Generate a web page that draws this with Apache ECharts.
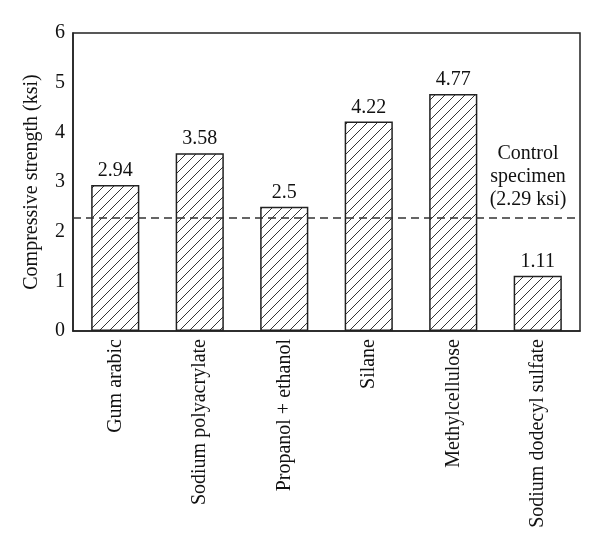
<!DOCTYPE html>
<html>
<head>
<meta charset="utf-8">
<script src="https://cdn.jsdelivr.net/npm/echarts@6/dist/echarts.min.js"></script>
<style>html,body{margin:0;padding:0;background:#fff;}#c{width:600px;height:549px;}</style>
</head>
<body>
<div id="c"></div>
<script>
var categories = ['Gum arabic', 'Sodium polyacrylate', 'Propanol + ethanol', 'Silane', 'Methylcellulose', 'Sodium dodecyl sulfate'];
var strengths = [2.94, 3.58, 2.5, 4.22, 4.77, 1.11];
var controlValue = 2.29;
var yTicks = [0, 1, 2, 3, 4, 5, 6];

var FONT = '"Liberation Serif", "Times New Roman", serif';

function hatch() {
  var s = 10;
  var cv = document.createElement('canvas');
  cv.width = s; cv.height = s;
  var ctx = cv.getContext('2d');
  ctx.fillStyle = '#fff';
  ctx.fillRect(0, 0, s, s);
  ctx.strokeStyle = '#333';
  ctx.lineWidth = 1;
  ctx.beginPath();
  ctx.moveTo(-1, s + 1); ctx.lineTo(s + 1, -1);
  ctx.moveTo(-1, 1); ctx.lineTo(1, -1);
  ctx.moveTo(s - 1, s + 1); ctx.lineTo(s + 1, s - 1);
  ctx.stroke();
  return cv;
}

var chart = echarts.init(document.getElementById('c'), null, {renderer: 'canvas'});
chart.setOption({
  animation: false,
  backgroundColor: '#fff',
  grid: {left: 73, right: 20, top: 33, bottom: 218, show: true, borderColor: '#222', borderWidth: 1.5, backgroundColor: 'transparent'},
  xAxis: {
    type: 'category',
    data: categories,
    axisLine: {show: true, lineStyle: {color: '#222', width: 1.5}},
    axisTick: {show: false},
    axisLabel: {rotate: 90, fontFamily: FONT, fontSize: 20, color: '#111', margin: 8}
  },
  yAxis: {
    type: 'value',
    min: yTicks[0],
    max: yTicks[yTicks.length - 1],
    interval: 1,
    name: 'Compressive strength (ksi)',
    nameLocation: 'middle',
    nameGap: 31,
    nameTextStyle: {fontFamily: FONT, fontSize: 20, color: '#111'},
    axisLine: {show: true, lineStyle: {color: '#222', width: 1.5}},
    axisTick: {show: false},
    splitLine: {show: false},
    axisLabel: {fontFamily: FONT, fontSize: 20, color: '#111', margin: 8}
  },
  series: [{
    type: 'bar',
    data: strengths,
    barWidth: '57%',
    itemStyle: {color: {image: hatch(), repeat: 'repeat'}, borderColor: '#222', borderWidth: 1.5},
    label: {show: true, position: 'top', distance: 4, fontFamily: FONT, fontSize: 20, color: '#111'},
    markLine: {
      symbol: 'none',
      silent: true,
      data: [{yAxis: controlValue}],
      lineStyle: {color: '#333', type: [8, 5], width: 1.5},
      label: {
        position: 'insideEndTop',
        distance: [6, 6],
        formatter: '{a|Control}\n{a|specimen}\n{a|(' + controlValue + ' ksi)}',
        rich: {a: {fontFamily: FONT, fontSize: 20, color: '#111', width: 92, align: 'center', lineHeight: 23}}
      }
    }
  }]
});
</script>
</body>
</html>
